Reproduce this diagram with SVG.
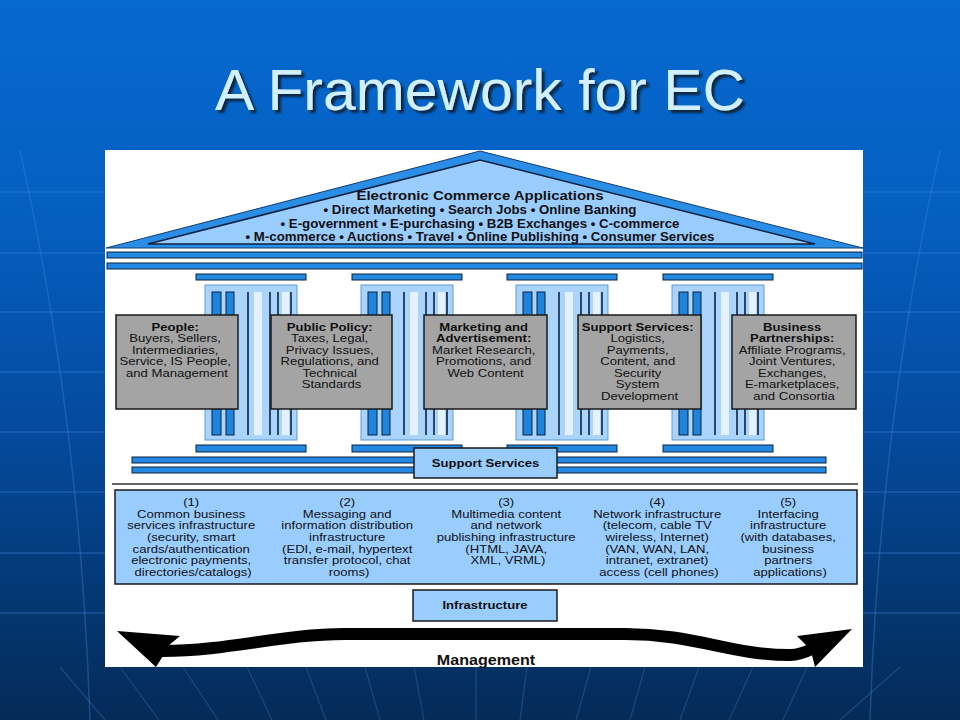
<svg xmlns="http://www.w3.org/2000/svg" xmlns:xlink="http://www.w3.org/1999/xlink" width="960" height="720" viewBox="0 0 960 720">
<defs>
<linearGradient id="bg" x1="0" y1="0" x2="0" y2="1">
<stop offset="0" stop-color="#0669D0"/>
<stop offset="0.3" stop-color="#055FC0"/>
<stop offset="0.6" stop-color="#054A9E"/>
<stop offset="0.85" stop-color="#04366F"/>
<stop offset="1" stop-color="#052B58"/>
</linearGradient>
<filter id="shadow" x="-10%" y="-20%" width="130%" height="150%">
<feDropShadow dx="3" dy="3" stdDeviation="1.2" flood-color="#0a1a33" flood-opacity="0.9"/>
</filter>
<style>
.t{font-family:"Liberation Sans",Arial,sans-serif;font-size:11.4px;fill:#111;text-anchor:middle}
.b{font-weight:bold}
.mg{font-size:14px}
.roof{font-family:"Liberation Sans",Arial,sans-serif;font-size:12px;font-weight:bold;fill:#111;text-anchor:middle}
.bar{fill:#2288E2;stroke:#0c2340;stroke-width:1}
.gray{fill:#A4A4A4;stroke:#1a1a1a;stroke-width:1.5}
.lb{fill:#99CCFF;stroke:#1a1a1a;stroke-width:1.5}
.dk{stroke:#0c2340;stroke-width:1.6}
.thick{fill:#1F84DE;stroke:#0c2340;stroke-width:1}
.light{fill:#E4F2FF}
.faint{stroke:#3f8ae0;stroke-opacity:0.35;stroke-width:1.5;fill:none}
.floor{stroke:#3f7fc8;stroke-opacity:0.35;stroke-width:1.2}
</style>
<g id="col">
<rect class="bar" x="0" y="0" width="110" height="6"/>
<rect x="9" y="11" width="92" height="155" fill="#AAD4FB" stroke="#5d9bd5" stroke-width="1"/>
<rect class="thick" x="16" y="18" width="9" height="143"/>
<rect class="thick" x="30" y="18" width="8" height="143"/>
<line class="dk" x1="52" y1="18" x2="52" y2="161"/>
<rect class="light" x="58" y="18" width="8" height="143"/>
<line class="dk" x1="74" y1="18" x2="74" y2="161"/>
<line class="dk" x1="82" y1="18" x2="82" y2="161"/>
<rect class="light" x="86" y="18" width="7" height="143"/>
<line class="dk" x1="95" y1="18" x2="95" y2="161"/>
<rect class="bar" x="0" y="171" width="110" height="7"/>
</g>
</defs>

<g id="background">
<rect x="0" y="0" width="960" height="720" fill="url(#bg)"/>
<line class="faint" x1="0" y1="192" x2="960" y2="192"/>
<line class="faint" x1="0" y1="253" x2="960" y2="253"/>
<line class="faint" x1="0" y1="312" x2="960" y2="312"/>
<line class="faint" x1="0" y1="372" x2="960" y2="372"/>
<line class="faint" x1="0" y1="432" x2="960" y2="432"/>
<line class="faint" x1="0" y1="492" x2="960" y2="492"/>
<line class="faint" x1="0" y1="553" x2="960" y2="553"/>
<line class="faint" x1="0" y1="613" x2="960" y2="613"/>
<path class="faint" d="M 940 150 Q 880 420 870 720"/>
<path class="faint" d="M 20 150 Q 80 420 90 720"/>
<line class="floor" x1="120" y1="667" x2="159" y2="720"/>
<line class="floor" x1="183" y1="667" x2="218" y2="720"/>
<line class="floor" x1="247" y1="667" x2="272" y2="720"/>
<line class="floor" x1="306" y1="667" x2="326" y2="720"/>
<line class="floor" x1="365" y1="667" x2="380" y2="720"/>
<line class="floor" x1="414" y1="667" x2="424" y2="720"/>
<line class="floor" x1="476" y1="667" x2="476" y2="720"/>
<line class="floor" x1="527" y1="667" x2="520" y2="720"/>
<line class="floor" x1="591" y1="667" x2="576" y2="720"/>
<line class="floor" x1="645" y1="667" x2="630" y2="720"/>
<line class="floor" x1="699" y1="667" x2="680" y2="720"/>
<line class="floor" x1="753" y1="667" x2="729" y2="720"/>
<line class="floor" x1="807" y1="667" x2="783" y2="720"/>
<line class="floor" x1="60" y1="667" x2="105" y2="720"/>
<line class="floor" x1="900" y1="667" x2="840" y2="720"/>
</g>

<g id="title">
<text x="480" y="110" font-family="'Liberation Sans',Arial,sans-serif" font-size="58" fill="#D2F0FF" text-anchor="middle" filter="url(#shadow)" textLength="530" lengthAdjust="spacingAndGlyphs">A Framework for EC</text>
</g>

<rect id="panel" x="105" y="150" width="758" height="517" fill="#FFFFFF"/>

<g id="roof">
<polygon points="480,151 106,248 863,248" fill="#2A8DE6" stroke="#163e6e" stroke-width="1"/>
<polygon points="480,160 148,244 815,244" fill="#99CCFF" stroke="#10223f" stroke-width="1.6"/>
<text class="roof" x="480" y="200" textLength="247" lengthAdjust="spacingAndGlyphs">Electronic Commerce Applications</text>
<text class="roof" x="480" y="214" textLength="313" lengthAdjust="spacingAndGlyphs">• Direct Marketing • Search Jobs • Online Banking</text>
<text class="roof" x="480" y="228" textLength="399" lengthAdjust="spacingAndGlyphs">• E-government • E-purchasing • B2B Exchanges • C-commerce</text>
<text class="roof" x="480" y="241" textLength="469" lengthAdjust="spacingAndGlyphs">• M-commerce • Auctions • Travel • Online Publishing • Consumer Services</text>
<rect class="bar" x="107" y="252" width="755" height="6"/>
<rect class="bar" x="107" y="263" width="755" height="6"/>
</g>

<g id="columns">
<use xlink:href="#col" href="#col" x="196" y="274"/>
<use xlink:href="#col" href="#col" x="352" y="274"/>
<use xlink:href="#col" href="#col" x="507" y="274"/>
<use xlink:href="#col" href="#col" x="663" y="274"/>
</g>

<g id="people">
<rect class="gray" x="116" y="315" width="122" height="94"/>
<text class="t" transform="translate(177 0) scale(1.15 1)">
<tspan class="b" x="0" y="331">People:</tspan>
<tspan x="0" y="342.5">Buyers, Sellers,</tspan>
<tspan x="0" y="354">Intermediaries,</tspan>
<tspan x="0" y="365.5">Service, IS People,</tspan>
<tspan x="0" y="377">and Management</tspan>
</text>
</g>

<g id="public-policy">
<rect class="gray" x="271" y="315" width="121" height="94"/>
<text class="t" transform="translate(331.5 0) scale(1.15 1)">
<tspan class="b" x="0" y="331">Public Policy:</tspan>
<tspan x="0" y="342.5">Taxes, Legal,</tspan>
<tspan x="0" y="354">Privacy Issues,</tspan>
<tspan x="0" y="365.5">Regulations, and</tspan>
<tspan x="0" y="377">Technical</tspan>
<tspan x="0" y="388.5">Standards</tspan>
</text>
</g>

<g id="marketing">
<rect class="gray" x="424" y="315" width="123" height="94"/>
<text class="t" transform="translate(485.5 0) scale(1.15 1)">
<tspan class="b" x="0" y="331">Marketing and</tspan>
<tspan class="b" x="0" y="342.5">Advertisement:</tspan>
<tspan x="0" y="354">Market Research,</tspan>
<tspan x="0" y="365.5">Promotions, and</tspan>
<tspan x="0" y="377">Web Content</tspan>
</text>
</g>

<g id="support-services-box">
<rect class="gray" x="578" y="315" width="123" height="94"/>
<text class="t" transform="translate(639.5 0) scale(1.15 1)">
<tspan class="b" x="0" y="331">Support Services:</tspan>
<tspan x="0" y="342.5">Logistics,</tspan>
<tspan x="0" y="354">Payments,</tspan>
<tspan x="0" y="365.5">Content, and</tspan>
<tspan x="0" y="377">Security</tspan>
<tspan x="0" y="388.5">System</tspan>
<tspan x="0" y="400">Development</tspan>
</text>
</g>

<g id="business-partnerships">
<rect class="gray" x="732" y="315" width="124" height="94"/>
<text class="t" transform="translate(794 0) scale(1.15 1)">
<tspan class="b" x="0" y="331">Business</tspan>
<tspan class="b" x="0" y="342.5">Partnerships:</tspan>
<tspan x="0" y="354">Affiliate Programs,</tspan>
<tspan x="0" y="365.5">Joint Ventures,</tspan>
<tspan x="0" y="377">Exchanges,</tspan>
<tspan x="0" y="388.5">E-marketplaces,</tspan>
<tspan x="0" y="400">and Consortia</tspan>
</text>
</g>

<g id="support-services">
<rect class="bar" x="132" y="457" width="694" height="6"/>
<rect class="bar" x="132" y="467" width="694" height="6"/>
<rect class="lb" x="414" y="448" width="143" height="30"/>
<text class="t b" transform="translate(485.5 0) scale(1.15 1)" x="0" y="467">Support Services</text>
</g>

<line id="separator" x1="112" y1="484" x2="858" y2="484" stroke="#333" stroke-width="1.5"/>

<g id="infrastructure-layers">
<rect class="lb" x="115" y="490" width="742" height="94"/>
<text class="t" transform="translate(193 0) scale(1.15 1)">
<tspan x="0" y="506">(1)</tspan>
<tspan x="0" y="517.7">Common business</tspan>
<tspan x="0" y="529.4">services infrastructure</tspan>
<tspan x="0" y="541">(security, smart</tspan>
<tspan x="0" y="552.7">cards/authentication</tspan>
<tspan x="0" y="564.4">electronic payments,</tspan>
<tspan x="0" y="576">directories/catalogs)</tspan>
</text>
<text class="t" transform="translate(349 0) scale(1.15 1)">
<tspan x="0" y="506">(2)</tspan>
<tspan x="0" y="517.7">Messaging and</tspan>
<tspan x="0" y="529.4">information distribution</tspan>
<tspan x="0" y="541">infrastructure</tspan>
<tspan x="0" y="552.7">(EDI, e-mail, hypertext</tspan>
<tspan x="0" y="564.4">transfer protocol, chat</tspan>
<tspan x="0" y="576">rooms)</tspan>
</text>
<text class="t" transform="translate(508 0) scale(1.15 1)">
<tspan x="0" y="506">(3)</tspan>
<tspan x="0" y="517.7">Multimedia content</tspan>
<tspan x="0" y="529.4">and network</tspan>
<tspan x="0" y="541">publishing infrastructure</tspan>
<tspan x="0" y="552.7">(HTML, JAVA,</tspan>
<tspan x="0" y="564.4">XML, VRML)</tspan>
</text>
<text class="t" transform="translate(659 0) scale(1.15 1)">
<tspan x="0" y="506">(4)</tspan>
<tspan x="0" y="517.7">Network infrastructure</tspan>
<tspan x="0" y="529.4">(telecom, cable TV</tspan>
<tspan x="0" y="541">wireless, Internet)</tspan>
<tspan x="0" y="552.7">(VAN, WAN, LAN,</tspan>
<tspan x="0" y="564.4">intranet, extranet)</tspan>
<tspan x="0" y="576">access (cell phones)</tspan>
</text>
<text class="t" transform="translate(790 0) scale(1.15 1)">
<tspan x="0" y="506">(5)</tspan>
<tspan x="0" y="517.7">Interfacing</tspan>
<tspan x="0" y="529.4">infrastructure</tspan>
<tspan x="0" y="541">(with databases,</tspan>
<tspan x="0" y="552.7">business</tspan>
<tspan x="0" y="564.4">partners</tspan>
<tspan x="0" y="576">applications)</tspan>
</text>
</g>

<g id="infrastructure">
<rect class="lb" x="413" y="590" width="144" height="31"/>
<text class="t b" transform="translate(485 0) scale(1.15 1)" x="0" y="609">Infrastructure</text>
</g>

<g id="connectors">
<path d="M 162 651 C 230 651 280 634 345 634 L 625 634 C 695 634 730 655 790 655 C 800 655 808 651 814 648" fill="none" stroke="#000" stroke-width="12"/>
<polygon points="117,631 180,636 168,646 163,656 156,667" fill="#000"/>
<polygon points="852,629 815,667 812,655 806,645 797,636" fill="#000"/>
</g>

<g id="management">
<text class="t b mg" transform="translate(486 0) scale(1.15 1)" x="0" y="665">Management</text>
</g>
</svg>
